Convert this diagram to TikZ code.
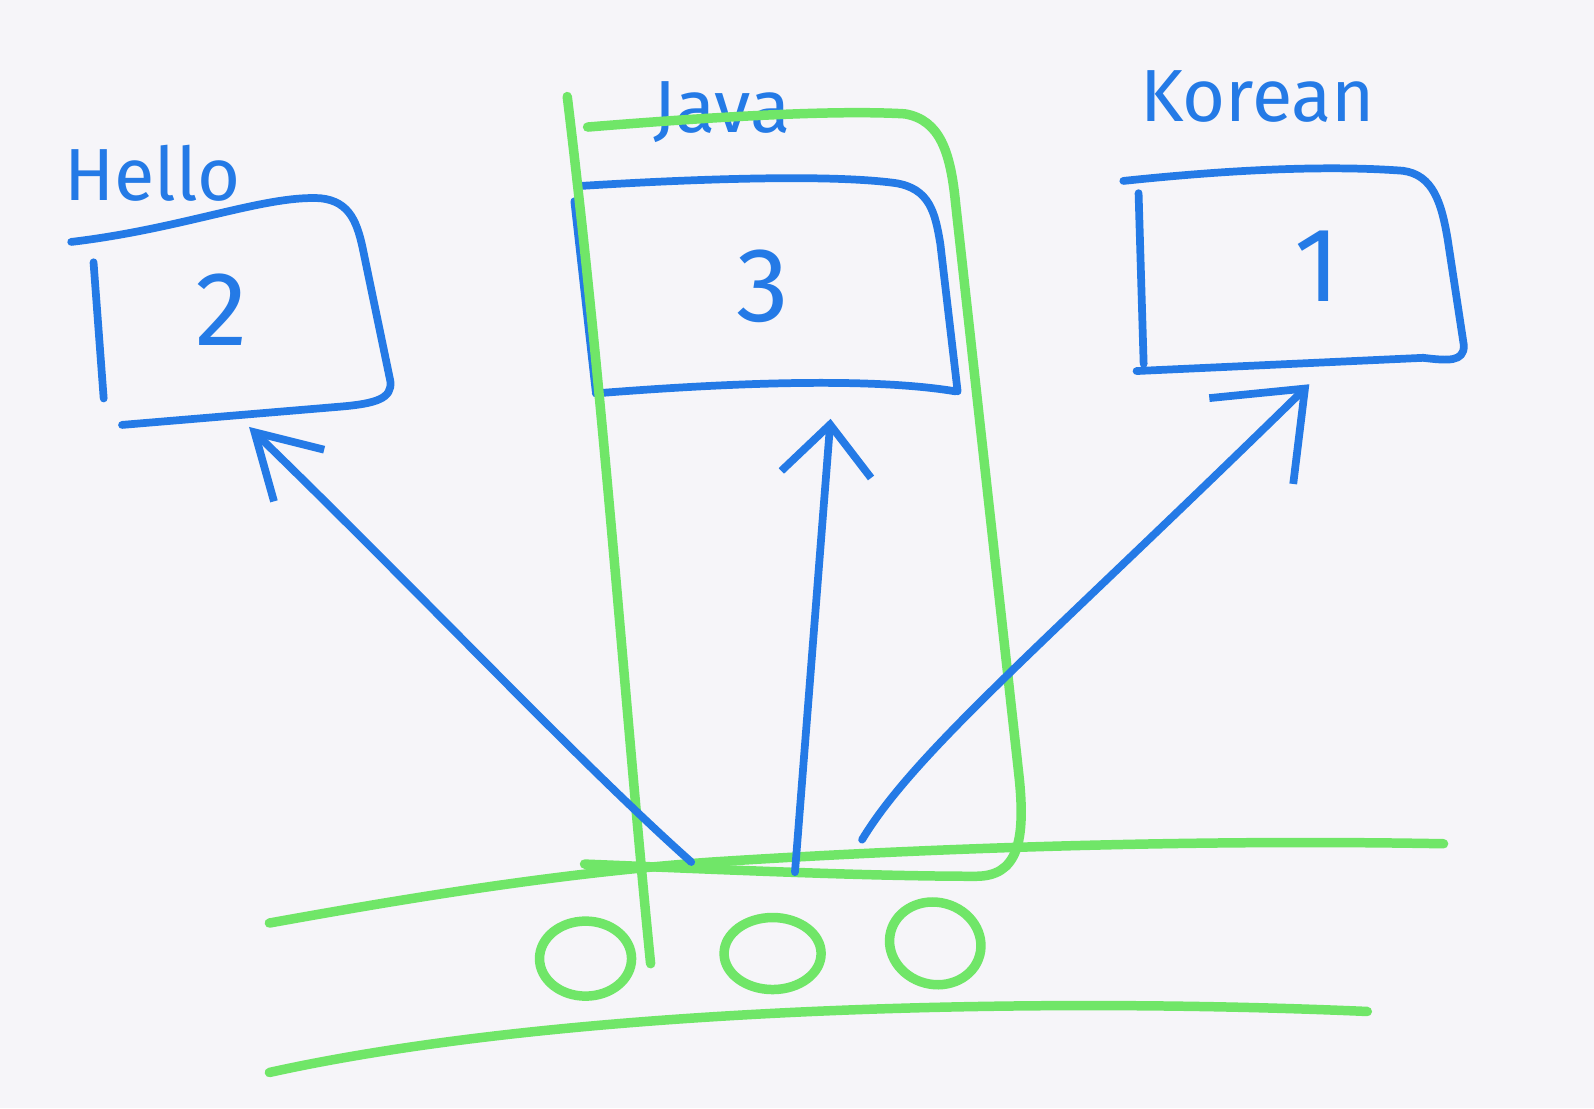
\documentclass[tikz,border=0pt]{standalone}
\usepackage{fontspec}
\setmainfont{Fira Sans}
\usetikzlibrary{arrows.meta,shapes.geometric}
\definecolor{inkblue}{RGB}{36,122,230}
\definecolor{inkgreen}{RGB}{112,230,104}
\definecolor{paper}{RGB}{246,245,249}
\begin{document}
\begin{tikzpicture}[x=0.010166cm,y=-0.010166cm,
  bl/.style={draw=inkblue,line width=2.2pt,line cap=round,line join=round},
  gr/.style={draw=inkgreen,line width=2.7pt,line cap=round,line join=round},
  lbl/.style={text=inkblue,font=\fontsize{21}{26}\selectfont,inner sep=0pt},
  num/.style={text=inkblue,font=\fontsize{30}{34}\selectfont,inner sep=0pt},
  port/.style={ellipse,draw=inkgreen,line width=2.7pt,inner sep=0pt},
  arrL/.style={bl,-{Straight Barb[length=0.62cm,width=0.72cm,line width=2.2pt]}},
  arrM/.style={bl,-{Straight Barb[length=0.5cm,width=0.9cm,line width=2.2pt]}},
  arrR/.style={bl,-{Straight Barb[length=0.75cm,width=1.2cm,line width=2.2pt]}}]
\fill[paper] (0,0) rectangle (1568,1090);
\useasboundingbox (0,0) rectangle (1568,1090);
% labels
\node[lbl] (thello) at (150,170) {Hello};
\node[lbl] (tjava) at (710,110) {Java};
\node[lbl] (tkor) at (1237,95) {Korean};
% box 2
\draw[bl] (70,238) .. controls (180,225) and (260,192) .. (315,195)
  .. controls (345,198) and (352,220) .. (358,250) -- (384,375)
  .. controls (386,392) and (370,397) .. (335,400) -- (120,418);
\draw[bl] (92,258) -- (102,392);
\node[num] (n2) at (218,305) {2};
\coordinate (b2) at (245,420);
% box 3
\draw[bl] (570,183) .. controls (700,175) and (820,172) .. (880,180)
  .. controls (915,185) and (920,210) .. (925,240) -- (942,385);
\draw[bl] (586,387) .. controls (700,378) and (850,370) .. (940,385);
\draw[bl] (565,198) -- (586,385);
\node[num] (n3) at (750,282) {3};
\coordinate (b3) at (817,412);
% box 1
\draw[bl] (1105,178) .. controls (1200,168) and (1300,162) .. (1380,168)
  .. controls (1410,172) and (1418,200) .. (1424,235) -- (1440,340)
  .. controls (1440,356) and (1425,355) .. (1400,352) -- (1118,365);
\draw[bl] (1120,190) -- (1125,358);
\node[num] (n1) at (1296,262) {1};
\coordinate (b1) at (1288,378);
% green container
\draw[gr] (558,95) .. controls (595,400) and (615,700) .. (640,948);
\draw[gr] (578,125) .. controls (700,115) and (820,108) .. (890,112)
  .. controls (925,118) and (935,150) .. (940,200) -- (1002,760)
  .. controls (1010,830) and (1000,862) .. (960,862)
  .. controls (850,862) and (700,855) .. (575,850);
% bus
\draw[gr] (265,908) .. controls (420,880) and (560,858) .. (700,848)
  .. controls (950,832) and (1200,826) .. (1420,830);
\draw[gr] (265,1055) .. controls (550,992) and (1000,980) .. (1345,995);
\node[port,minimum width=0.92cm,minimum height=0.75cm] (p1) at (576,943) {};
\node[port,minimum width=0.97cm,minimum height=0.72cm] (p2) at (760,938) {};
\node[port,minimum width=0.92cm,minimum height=0.82cm,rotate=-15] (p3) at (920,928) {};
% arrows
\coordinate (s2) at (680,848);
\coordinate (s3) at (782,858);
\coordinate (s1) at (848,826);
\draw[arrL] (s2) .. controls (570,750) and (420,590) .. (b2);
\draw[arrM] (s3) -- (b3);
\draw[arrR] (s1) .. controls (900,740) and (1020,640) .. (b1);
\end{tikzpicture}
\end{document}
